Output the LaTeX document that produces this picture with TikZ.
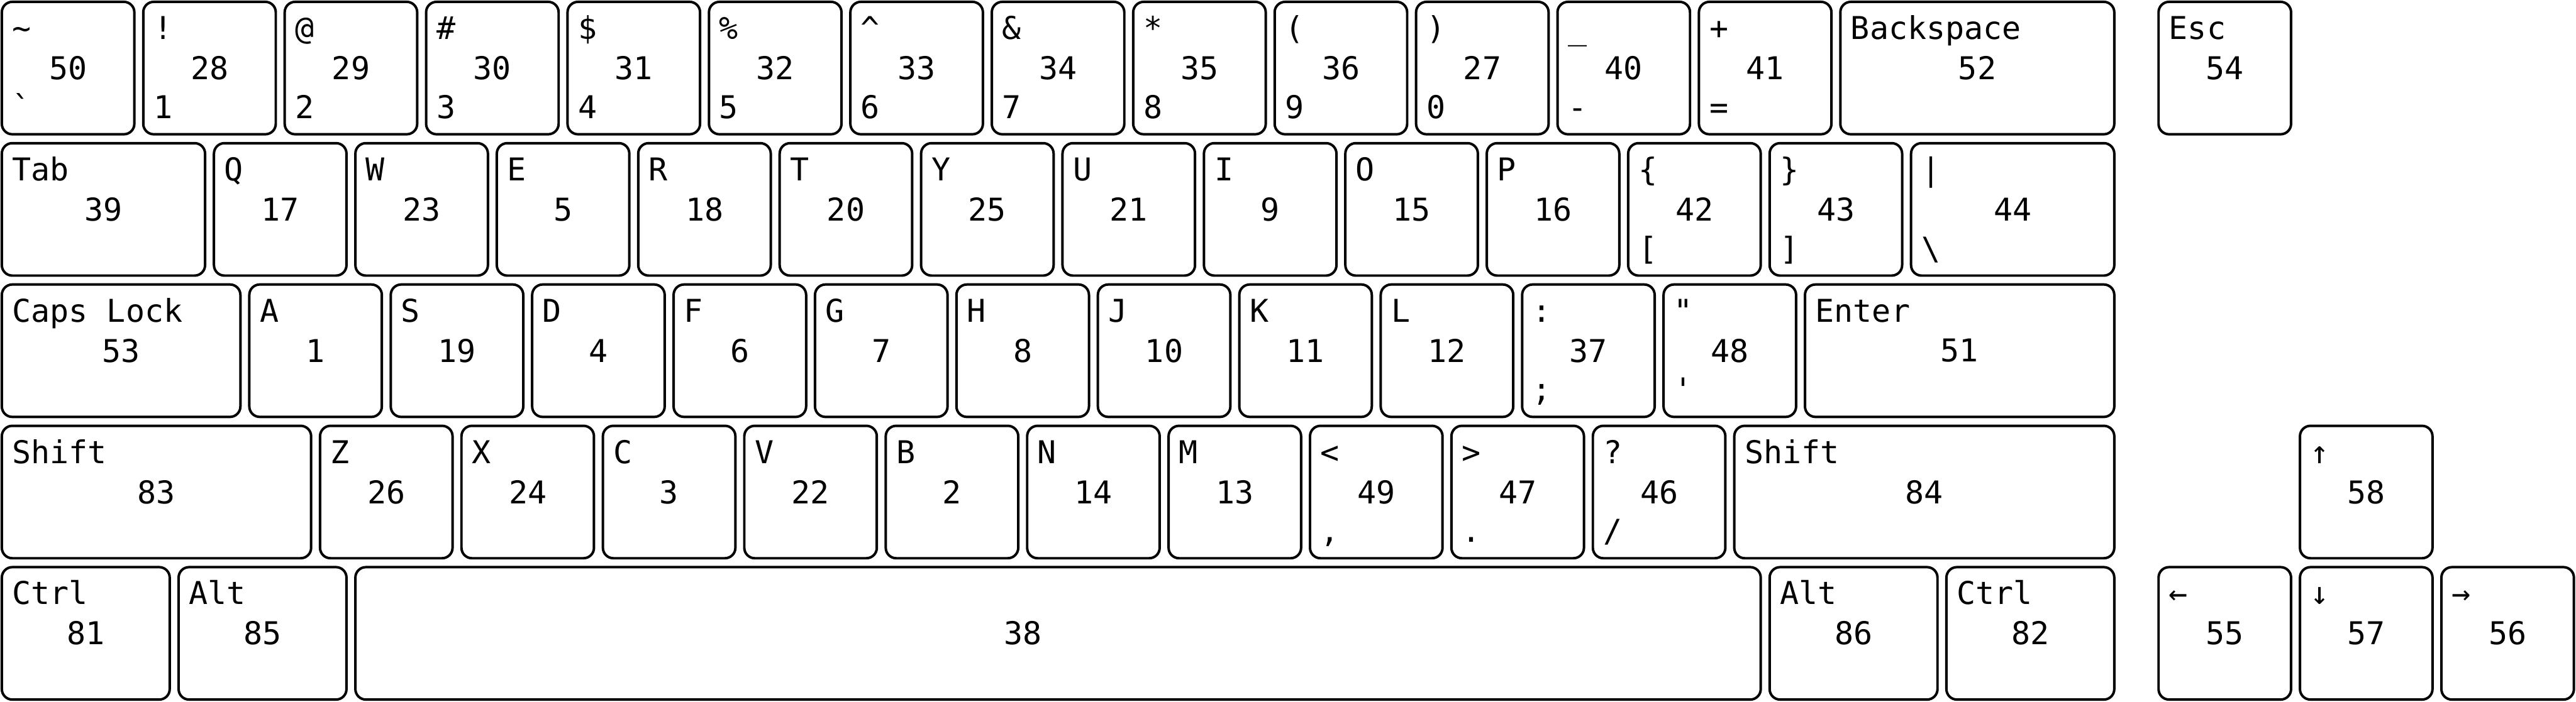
\documentclass[tikz,border=0pt]{standalone}
\usepackage{fontspec}
\newfontfamily\keyfont{DejaVu Sans Mono}
\newcommand{\kbkey}[5]{%
  \node[keycap,minimum width=#3*54pt-3.4pt] (k#4) at (#1,#2) {#4};
  \node[keylabel] (k#4top) at ([shift={(3.8pt,-14.3pt)}]k#4.north west) {#5};}
\newcommand{\kbsub}[2]{%
  \node[keylabel] (k#1sub) at ([shift={(3.8pt,-44.5pt)}]k#1.north west) {#2};}

\begin{document}
\begin{tikzpicture}[x=54pt,y=-54pt,font=\keyfont\fontsize{12}{14}\selectfont]
\tikzstyle{keycap}=[draw,line width=0.95pt,rounded corners=4pt,anchor=north west,outer sep=0pt,inner sep=0pt,minimum height=50.6pt,xshift=0.7pt,yshift=-0.7pt]
\tikzstyle{keylabel}=[anchor=base west,inner sep=0pt]
\useasboundingbox (0,0) rectangle (983.6pt,-268pt);
% number row
\foreach \n/\t/\b [count=\i from 0] in {50/\textasciitilde/\textasciigrave,28/!/1,29/@/2,30/\#/3,31/\$/4,32/\%/5,33/\textasciicircum/6,34/\&/7,35/*/8,36/(/9,27/)/0,40/\textunderscore/-,41/+/=}
  {\kbkey{\i}{0}{1}{\n}{\t}\kbsub{\n}{\b}}
\kbkey{13}{0}{2}{52}{Backspace}
\kbkey{15.25}{0}{1}{54}{Esc}
% top letter row
\kbkey{0}{1}{1.5}{39}{Tab}
\foreach \n/\t [count=\i from 0] in {17/Q,23/W,5/E,18/R,20/T,25/Y,21/U,9/I,15/O,16/P}
  {\kbkey{\i+1.5}{1}{1}{\n}{\t}}
\kbkey{11.5}{1}{1}{42}{\textbraceleft}\kbsub{42}{[}
\kbkey{12.5}{1}{1}{43}{\textbraceright}\kbsub{43}{]}
\kbkey{13.5}{1}{1.5}{44}{\textbar}\kbsub{44}{\textbackslash}
% home row
\kbkey{0}{2}{1.75}{53}{Caps Lock}
\foreach \n/\t [count=\i from 0] in {1/A,19/S,4/D,6/F,7/G,8/H,10/J,11/K,12/L}
  {\kbkey{\i+1.75}{2}{1}{\n}{\t}}
\kbkey{10.75}{2}{1}{37}{:}\kbsub{37}{;}
\kbkey{11.75}{2}{1}{48}{\textquotedbl}\kbsub{48}{\textquotesingle}
\kbkey{12.75}{2}{2.25}{51}{Enter}
% bottom letter row
\kbkey{0}{3}{2.25}{83}{Shift}
\foreach \n/\t [count=\i from 0] in {26/Z,24/X,3/C,22/V,2/B,14/N,13/M}
  {\kbkey{\i+2.25}{3}{1}{\n}{\t}}
\kbkey{9.25}{3}{1}{49}{<}\kbsub{49}{,}
\kbkey{10.25}{3}{1}{47}{>}\kbsub{47}{.}
\kbkey{11.25}{3}{1}{46}{?}\kbsub{46}{/}
\kbkey{12.25}{3}{2.75}{84}{Shift}
\kbkey{16.25}{3}{1}{58}{↑}
% space row
\kbkey{0}{4}{1.25}{81}{Ctrl}
\kbkey{1.25}{4}{1.25}{85}{Alt}
\node[keycap,minimum width=10*54pt-3.4pt] (k38) at (2.5,4) {};
\node (k38num) at ([xshift=-13.4pt]k38.center) {38};
\kbkey{12.5}{4}{1.25}{86}{Alt}
\kbkey{13.75}{4}{1.25}{82}{Ctrl}
\kbkey{15.25}{4}{1}{55}{←}
\kbkey{16.25}{4}{1}{57}{↓}
\kbkey{17.25}{4}{1}{56}{→}
\end{tikzpicture}
\end{document}
